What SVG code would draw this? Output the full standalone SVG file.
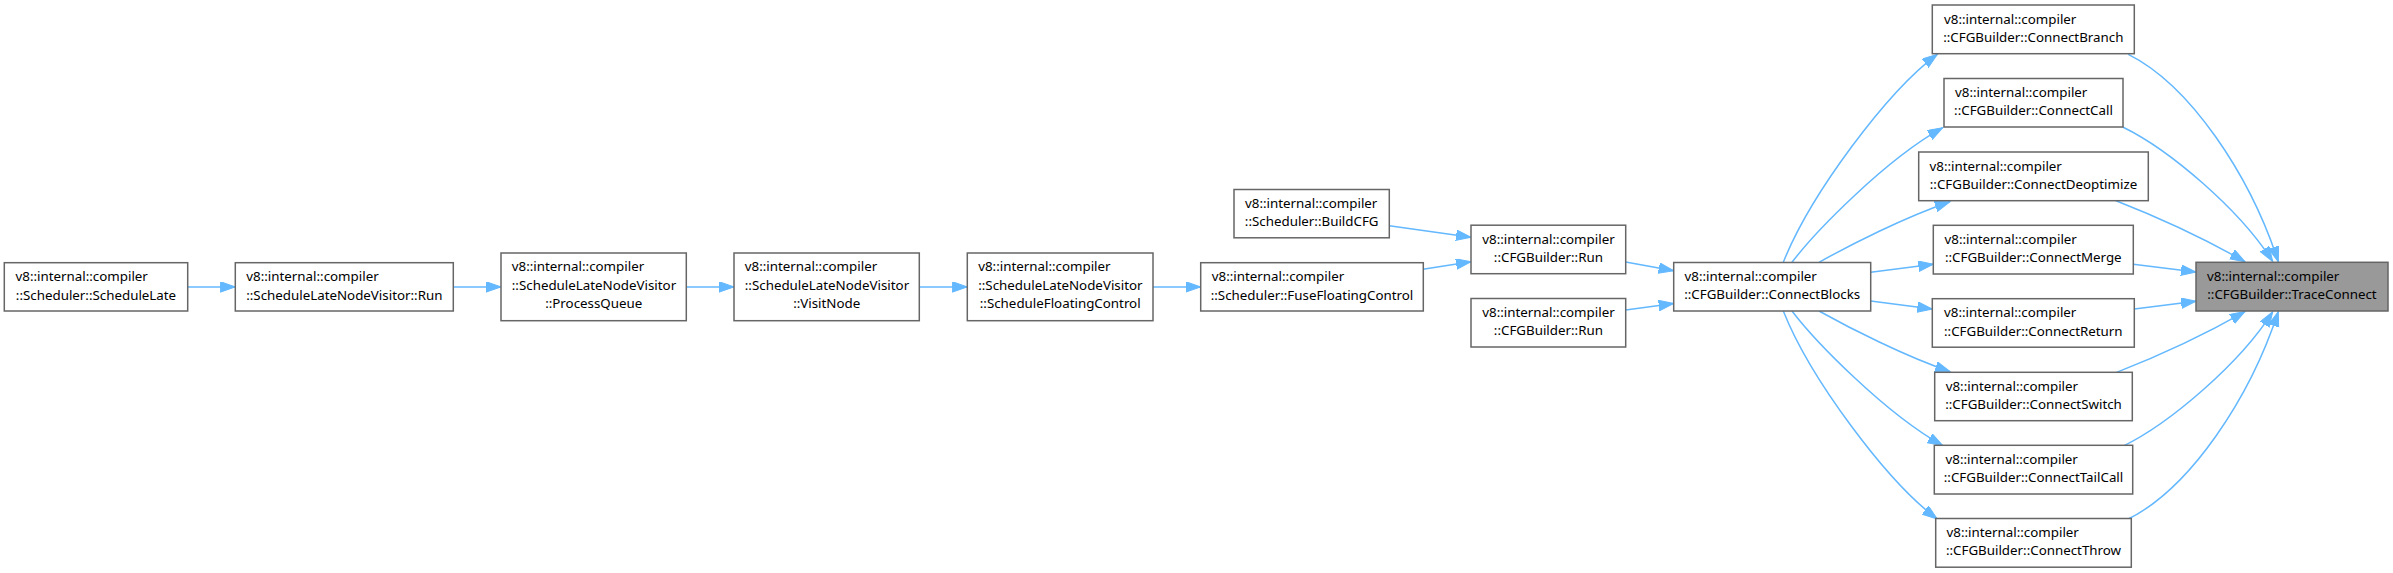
<svg xmlns="http://www.w3.org/2000/svg" width="2393" height="573" viewBox="0 0 2393 573">
<style>
.n rect{fill:#ffffff;stroke:#666666;stroke-width:1.5}
.h rect{fill:#999999;stroke:#666666;stroke-width:1.5}
text{font-family:"Noto Sans","DejaVu Sans",sans-serif;font-size:13.33px;fill:#000000}
.c{text-anchor:middle}
#edges path{fill:none;stroke:#63b8ff;stroke-width:1.5;marker-end:url(#ah)}
</style>
<defs>
<marker id="ah" markerUnits="userSpaceOnUse" markerWidth="17" markerHeight="12" refX="15" refY="5.25" orient="auto">
<path d="M0,0 L15,5.25 L0,10.5 z" fill="#63b8ff" stroke="#63b8ff" stroke-width="1"/>
</marker>
</defs>
<rect width="2393" height="573" fill="#ffffff"/>
<g id="edges">
<path d="M187.7,286.9 L235.3,286.9"/>
<path d="M453.3,286.9 L501,286.9"/>
<path d="M686.3,286.9 L734,286.9"/>
<path d="M919.3,286.9 L967.3,286.9"/>
<path d="M1153,286.9 L1200.7,286.9"/>
<path d="M1423,269.3 L1471,261.7"/>
<path d="M1389.3,225.7 L1471,237.3"/>
<path d="M1625.7,262 L1673.7,270.7"/>
<path d="M1625.7,310 L1673.7,303.5"/>
<path d="M1870.7,272.3 L1933.3,264.3"/>
<path d="M1870.7,301 L1932.3,309"/>
<path d="M1819,262.3 C1850,245 1905,217 1950,201.7"/>
<path d="M1792,262.3 C1815,232 1885,160 1942.7,127.7"/>
<path d="M1783.3,262.3 C1810,195 1887,91.5 1937.3,54.3"/>
<path d="M1819,311 C1850,328.3 1905,356.3 1950,371.6"/>
<path d="M1792,311 C1815,341.3 1885,413.3 1942.7,445.6"/>
<path d="M1783.3,311 C1810,378.3 1887,481.8 1937.3,519"/>
<path d="M2133.3,264.3 L2196,272"/>
<path d="M2134.3,309 L2196,301.3"/>
<path d="M2116,200.7 C2150,214 2200,236 2245,261.7"/>
<path d="M2122.7,127 C2170,150 2240,210 2272.7,261.5"/>
<path d="M2128.3,54.3 C2190,85 2250,175 2278.3,261.7"/>
<path d="M2116,372.6 C2150,359.3 2200,337.3 2245,311.6"/>
<path d="M2122.7,446.3 C2170,423.3 2240,363.3 2272.7,311.8"/>
<path d="M2128.3,519 C2190,488.3 2250,398.3 2278.3,311.6"/>
</g>
<g id="n_ScheduleLate" class="n"><rect x="4.3" y="262.7" width="183.4" height="48.3"/><text x="15.5" y="281.3">v8::internal::compiler</text><text class="c" x="96" y="299.6">::Scheduler::ScheduleLate</text></g>
<g id="n_SLNV_Run" class="n"><rect x="235.3" y="262.7" width="218" height="48.3"/><text x="246.3" y="281.3">v8::internal::compiler</text><text class="c" x="344.3" y="299.6">::ScheduleLateNodeVisitor::Run</text></g>
<g id="n_ProcessQueue" class="n"><rect x="501" y="253" width="185.3" height="67.7"/><text x="511.8" y="271.4">v8::internal::compiler</text><text x="511.8" y="289.8">::ScheduleLateNodeVisitor</text><text class="c" x="593.7" y="308.2">::ProcessQueue</text></g>
<g id="n_VisitNode" class="n"><rect x="734" y="253" width="185.3" height="67.7"/><text x="744.8" y="271.4">v8::internal::compiler</text><text x="744.8" y="289.8">::ScheduleLateNodeVisitor</text><text class="c" x="826.7" y="308.2">::VisitNode</text></g>
<g id="n_ScheduleFloatingControl" class="n"><rect x="967.3" y="253" width="185.7" height="67.7"/><text x="978.2" y="271.4">v8::internal::compiler</text><text x="978.2" y="289.8">::ScheduleLateNodeVisitor</text><text class="c" x="1060.2" y="308.2">::ScheduleFloatingControl</text></g>
<g id="n_FuseFloatingControl" class="n"><rect x="1200.7" y="262.7" width="222.6" height="48.3"/><text x="1211.8" y="281.3">v8::internal::compiler</text><text class="c" x="1312" y="299.6">::Scheduler::FuseFloatingControl</text></g>
<g id="n_BuildCFG" class="n"><rect x="1234" y="189.5" width="155.3" height="48.3"/><text x="1245" y="208.1">v8::internal::compiler</text><text class="c" x="1311.7" y="226.4">::Scheduler::BuildCFG</text></g>
<g id="n_CFGBuilder_Run1" class="n"><rect x="1471" y="225.2" width="154.7" height="48.5"/><text x="1482.3" y="243.8">v8::internal::compiler</text><text class="c" x="1548.4" y="262.1">::CFGBuilder::Run</text></g>
<g id="n_CFGBuilder_Run2" class="n"><rect x="1471" y="298.5" width="154.7" height="48.5"/><text x="1482.3" y="317.1">v8::internal::compiler</text><text class="c" x="1548.4" y="335.4">::CFGBuilder::Run</text></g>
<g id="n_ConnectBlocks" class="n"><rect x="1673.7" y="262.5" width="197" height="48.5"/><text x="1684.5" y="281.1">v8::internal::compiler</text><text class="c" x="1772.2" y="299.4">::CFGBuilder::ConnectBlocks</text></g>
<g id="n_ConnectBranch" class="n"><rect x="1932.3" y="5" width="202" height="48.7"/><text x="1944" y="23.6">v8::internal::compiler</text><text class="c" x="2033.3" y="41.9">::CFGBuilder::ConnectBranch</text></g>
<g id="n_ConnectCall" class="n"><rect x="1944" y="78.5" width="179" height="48.5"/><text x="1955" y="97.1">v8::internal::compiler</text><text class="c" x="2033.5" y="115.4">::CFGBuilder::ConnectCall</text></g>
<g id="n_ConnectDeoptimize" class="n"><rect x="1918.7" y="152" width="229.6" height="48.7"/><text x="1929.5" y="170.6">v8::internal::compiler</text><text class="c" x="2033.5" y="188.9">::CFGBuilder::ConnectDeoptimize</text></g>
<g id="n_ConnectMerge" class="n"><rect x="1933.3" y="225.3" width="200" height="48.7"/><text x="1944.5" y="243.9">v8::internal::compiler</text><text class="c" x="2033.3" y="262.2">::CFGBuilder::ConnectMerge</text></g>
<g id="n_ConnectReturn" class="n"><rect x="1932.3" y="298.7" width="202" height="48.5"/><text x="1944" y="317.3">v8::internal::compiler</text><text class="c" x="2033.3" y="335.6">::CFGBuilder::ConnectReturn</text></g>
<g id="n_ConnectSwitch" class="n"><rect x="1934.7" y="372.3" width="197.6" height="48.4"/><text x="1945.7" y="390.9">v8::internal::compiler</text><text class="c" x="2033.5" y="409.2">::CFGBuilder::ConnectSwitch</text></g>
<g id="n_ConnectTailCall" class="n"><rect x="1934.3" y="445.3" width="198.4" height="48.7"/><text x="1945.5" y="463.9">v8::internal::compiler</text><text class="c" x="2033.5" y="482.2">::CFGBuilder::ConnectTailCall</text></g>
<g id="n_ConnectThrow" class="n"><rect x="1935.7" y="518.5" width="195.6" height="48.7"/><text x="1946.5" y="537.1">v8::internal::compiler</text><text class="c" x="2033.5" y="555.4">::CFGBuilder::ConnectThrow</text></g>
<g id="n_TraceConnect" class="h"><rect x="2196" y="262.3" width="192" height="48.7"/><text x="2207" y="280.9">v8::internal::compiler</text><text class="c" x="2292" y="299.2">::CFGBuilder::TraceConnect</text></g>
</svg>
